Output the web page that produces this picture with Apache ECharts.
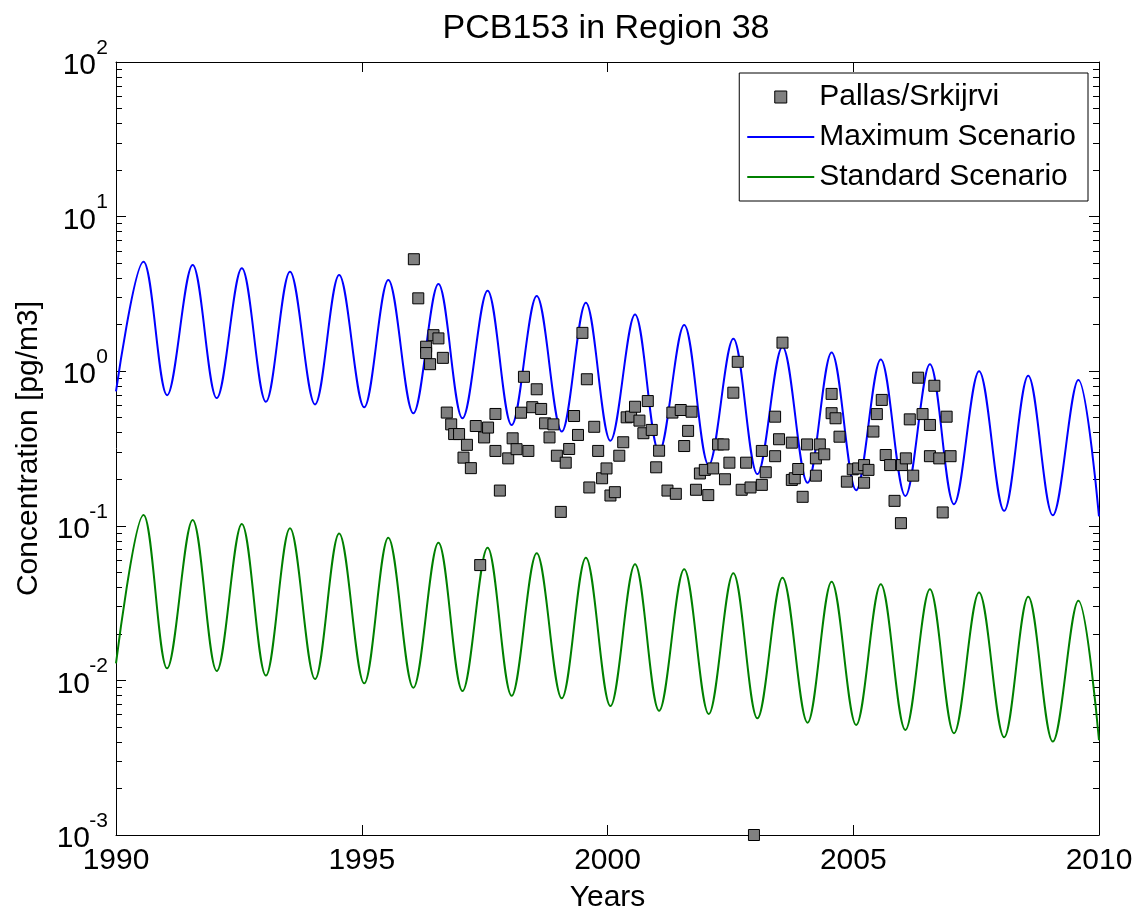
<!DOCTYPE html>
<html><head><meta charset="utf-8">
<script src="https://cdn.jsdelivr.net/npm/echarts@6/dist/echarts.min.js"></script>
<style>html,body{margin:0;padding:0;background:#fff}#c{width:1138px;height:917px}</style>
</head><body><div id="c"></div>
<script>
const titleText = 'PCB153 in Region 38';
const xName = 'Years';
const yName = 'Concentration [pg/m3]';
const seriesNames = ['Pallas/Srkijrvi', 'Maximum Scenario', 'Standard Scenario'];
const xTicks = [1990, 1995, 2000, 2005, 2010];
const yTickValues = [0.001, 0.01, 0.1, 1, 10, 100];

// model curves: start, peaks and troughs, end
const lineYears = [1990.0,
  1990.56, 1991.04, 1991.56, 1992.05, 1992.56, 1993.05, 1993.54, 1994.05, 1994.54, 1995.05,
  1995.54, 1996.05, 1996.56, 1997.05, 1997.56, 1998.05, 1998.56, 1999.07, 1999.56, 2000.06,
  2000.56, 2001.05, 2001.56, 2002.06, 2002.56, 2003.05, 2003.56, 2004.07, 2004.56, 2005.06,
  2005.56, 2006.06, 2006.56, 2007.05, 2007.56, 2008.07, 2008.56, 2009.06, 2009.58, 2010.0];
const maxValues = [0.74,
  5.1, 0.70, 4.86, 0.67, 4.63, 0.635, 4.4, 0.61, 4.19, 0.585,
  3.89, 0.535, 3.66, 0.496, 3.32, 0.449, 3.06, 0.407, 2.77, 0.355,
  2.33, 0.301, 1.99, 0.247, 1.62, 0.216, 1.44, 0.19, 1.32, 0.17,
  1.19, 0.156, 1.11, 0.138, 1.0, 0.125, 0.935, 0.117, 0.877, 0.115];
const stdValues = [0.0129,
  0.1175, 0.01197, 0.109, 0.0115, 0.1028, 0.01074, 0.0963, 0.0102, 0.0893, 0.00957,
  0.0837, 0.00897, 0.0778, 0.00853, 0.0722, 0.00796, 0.0664, 0.00766, 0.0622, 0.00683,
  0.0564, 0.00636, 0.0523, 0.00607, 0.0493, 0.00569, 0.0462, 0.00533, 0.0435, 0.00515,
  0.0418, 0.00478, 0.0388, 0.00455, 0.037, 0.00429, 0.0348, 0.00402, 0.0327, 0.0041];

// observations
const obsYears = [
  1996.06, 1996.15, 1996.46, 1996.56, 1996.31, 1996.31, 1996.39, 1996.65, 1996.73, 1996.82,
  1996.88, 1996.98, 1997.14, 1997.07, 1997.22, 1997.32, 1997.41, 1997.49, 1997.57, 1997.72,
  1997.72, 1997.81, 1997.98, 1998.07, 1998.15, 1998.24, 1998.30, 1998.39, 1998.47, 1998.56,
  1998.65, 1998.73, 1998.82, 1998.90, 1998.97, 1999.05, 1999.15, 1999.22, 1999.32, 1999.40,
  1999.49, 1999.58, 1999.63, 1999.73, 1999.81, 1999.89, 1999.98, 2000.06, 2000.15, 2000.24,
  2000.32, 2000.39, 2000.48, 2000.56, 2000.65, 2000.73, 2000.82, 2000.90, 2000.99, 2001.05,
  2001.22, 2001.32, 2001.39, 2001.49, 2001.56, 2001.64, 2001.71, 2001.80, 2001.88, 2001.98,
  2002.05, 2002.15, 2002.25, 2002.36, 2002.39, 2002.48, 2002.56, 2002.65, 2002.73, 2002.82,
  2002.91, 2002.98, 2003.14, 2003.14, 2003.22, 2003.41, 2003.41, 2003.49, 2003.56, 2003.75,
  2003.75, 2003.81, 2003.88, 2003.97, 2004.06, 2004.24, 2004.24, 2004.32, 2004.41, 2004.56,
  2004.56, 2004.64, 2004.72, 2004.87, 2004.99, 2005.10, 2005.22, 2005.22, 2005.31, 2005.41,
  2005.48, 2005.58, 2005.66, 2005.75, 2005.84, 2005.97, 2005.99, 2006.07, 2006.15, 2006.22,
  2006.32, 2006.41, 2006.56, 2006.56, 2006.65, 2006.75, 2006.82, 2006.90, 2006.98];
const obsValues = [
  5.3, 2.96, 1.71, 1.63, 1.44, 1.31, 1.11, 1.22, 0.54, 0.453,
  0.392, 0.392, 0.334, 0.276, 0.236, 0.442, 0.0557, 0.373, 0.432, 0.529,
  0.305, 0.169, 0.273, 0.368, 0.313, 0.539, 0.92, 0.305, 0.585, 0.764,
  0.57, 0.46, 0.373, 0.453, 0.284, 0.123, 0.256, 0.314, 0.513, 0.387,
  1.77, 0.887, 0.177, 0.437, 0.305, 0.203, 0.235, 0.157, 0.165, 0.284,
  0.347, 0.503, 0.508, 0.589, 0.479, 0.397, 0.641, 0.417, 0.239, 0.306,
  0.169, 0.54, 0.161, 0.561, 0.328, 0.411, 0.547, 0.171, 0.218, 0.23,
  0.158, 0.235, 0.336, 0.336, 0.2, 0.256, 0.726, 1.15, 0.171, 0.256,
  0.177, 0.001, 0.184, 0.305, 0.222, 0.282, 0.508, 0.363, 1.53, 0.345,
  0.198, 0.203, 0.233, 0.154, 0.336, 0.273, 0.211, 0.336, 0.29, 0.713,
  0.535, 0.496, 0.377, 0.193, 0.232, 0.235, 0.247, 0.19, 0.23, 0.407,
  0.528, 0.652, 0.287, 0.247, 0.145, 0.104, 0.247, 0.273, 0.488, 0.211,
  0.908, 0.528, 0.449, 0.282, 0.805, 0.273, 0.122, 0.508, 0.282];

const FONT = '"Liberation Sans", Arial, Helvetica, sans-serif';
const zip = (a, b) => a.map((v, i) => [v, b[i]]);

const chart = echarts.init(document.getElementById('c'), null, {renderer: 'canvas'});

const axisLineStyle = {show: true, onZero: false, lineStyle: {color: '#000', width: 1}};

const option = {
  animation: false,
  backgroundColor: '#fff',
  title: {
    text: titleText, left: 601, top: 7, textAlign: 'center',
    textStyle: {fontFamily: FONT, fontSize: 34, fontWeight: 'normal', color: '#000'}
  },
  grid: {left: 116, right: 39, top: 62, bottom: 82, containLabel: false, outerBoundsMode: 'none'},
  legend: {
    orient: 'vertical', right: 50, top: 73,
    backgroundColor: '#fff', borderColor: '#000', borderWidth: 1, borderRadius: 0,
    padding: [9, 12, 9, 8], itemWidth: 67, itemHeight: 12, itemGap: 10,
    symbolKeepAspect: true,
    textStyle: {fontFamily: FONT, fontSize: 30, color: '#000', lineHeight: 30},
    data: [
      {name: seriesNames[0], icon: 'path://M0,0h12v12h-12z',
       itemStyle: {color: '#808080', borderColor: '#000', borderWidth: 1}},
      {name: seriesNames[1], icon: 'path://M0,0h67v2h-67z', itemStyle: {color: '#0000ff', borderWidth: 0}},
      {name: seriesNames[2], icon: 'path://M0,0h67v2h-67z', itemStyle: {color: '#008000', borderWidth: 0}}
    ]
  },
  xAxis: [
    {
      type: 'value', min: xTicks[0], max: xTicks[xTicks.length - 1], interval: 5, position: 'bottom',
      axisLine: axisLineStyle,
      axisTick: {show: true, inside: true, length: 10, lineStyle: {color: '#000'}},
      axisLabel: {fontFamily: FONT, fontSize: 30, color: '#000', margin: 11, formatter: v => String(v)},
      splitLine: {show: false},
      name: xName, nameLocation: 'middle', nameGap: 48,
      nameTextStyle: {fontFamily: FONT, fontSize: 30, color: '#000'}
    },
    {
      type: 'value', min: xTicks[0], max: xTicks[xTicks.length - 1], interval: 5, position: 'top',
      axisLine: axisLineStyle,
      axisTick: {show: true, inside: true, length: 10, lineStyle: {color: '#000'}},
      axisLabel: {show: false}, splitLine: {show: false}
    }
  ],
  yAxis: [
    {
      type: 'log', logBase: 10, min: yTickValues[0], max: yTickValues[yTickValues.length - 1], position: 'left',
      axisLine: axisLineStyle,
      axisTick: {show: true, inside: true, length: 10, lineStyle: {color: '#000'}},
      minorTick: {show: true, splitNumber: 9, length: 6, lineStyle: {color: '#000'}},
      axisLabel: {
        margin: 8,
        formatter: v => {
          const n = Math.round(Math.log10(v));
          return '{e|' + n + '}\n{' + (n < 0 ? 'bn' : 'b') + '|10}';
        },
        rich: {
          e: {fontFamily: FONT, fontSize: 21, color: '#000', lineHeight: 8, align: 'right'},
          b: {fontFamily: FONT, fontSize: 30, color: '#000', lineHeight: 28, align: 'right', padding: [0, 12, 0, 0]},
          bn: {fontFamily: FONT, fontSize: 30, color: '#000', lineHeight: 28, align: 'right', padding: [0, 18, 0, 0]}
        }
      },
      splitLine: {show: false}, minorSplitLine: {show: false},
      name: yName, nameLocation: 'middle', nameGap: 72, nameRotate: 90,
      nameTextStyle: {fontFamily: FONT, fontSize: 30, color: '#000'}
    },
    {
      type: 'log', logBase: 10, min: yTickValues[0], max: yTickValues[yTickValues.length - 1], position: 'right',
      axisLine: axisLineStyle,
      axisTick: {show: true, inside: true, length: 10, lineStyle: {color: '#000'}},
      minorTick: {show: true, splitNumber: 9, length: 6, lineStyle: {color: '#000'}},
      axisLabel: {show: false}, splitLine: {show: false}
    }
  ],
  series: [
    {
      name: seriesNames[0], type: 'scatter', xAxisIndex: 0, yAxisIndex: 0,
      data: zip(obsYears, obsValues), symbol: 'rect', symbolSize: 11, clip: false, z: 5,
      itemStyle: {color: '#808080', borderColor: '#000', borderWidth: 1, opacity: 1}
    },
    {
      name: seriesNames[1], type: 'line', xAxisIndex: 0, yAxisIndex: 0,
      data: zip(lineYears, maxValues), smooth: 0.35, symbol: 'none', showSymbol: false, z: 3,
      lineStyle: {color: '#0000ff', width: 2}, itemStyle: {color: '#0000ff'}
    },
    {
      name: seriesNames[2], type: 'line', xAxisIndex: 0, yAxisIndex: 0,
      data: zip(lineYears, stdValues), smooth: 0.35, symbol: 'none', showSymbol: false, z: 3,
      lineStyle: {color: '#008000', width: 2}, itemStyle: {color: '#008000'}
    }
  ]
};
chart.setOption(option);
</script>
</body></html>
